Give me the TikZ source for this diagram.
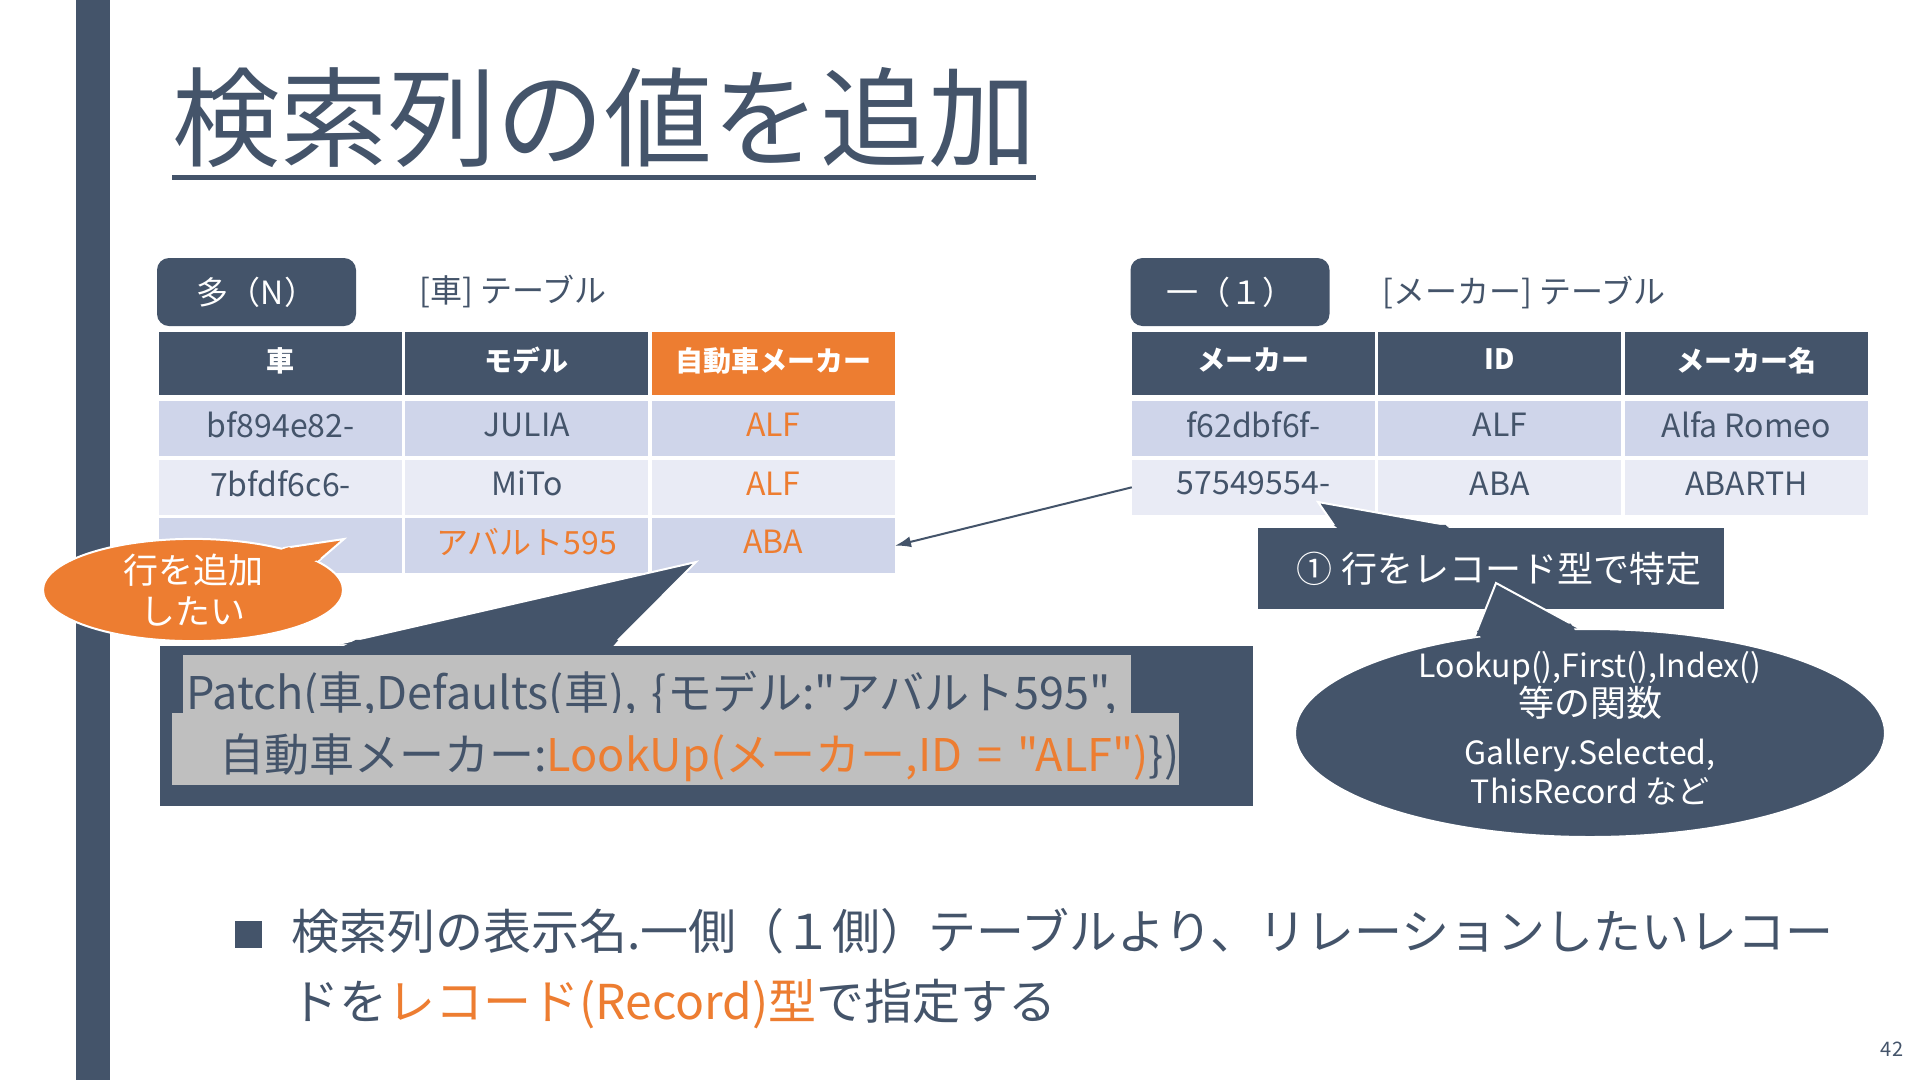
\documentclass[tikz,border=0pt]{standalone}
\usepackage{fontspec}
\setmainfont{Noto Sans CJK JP}[Ligatures=TeXOff]
\usetikzlibrary{positioning,arrows.meta,shapes.geometric,calc}
\definecolor{slate}{HTML}{44546A}
\definecolor{accent}{HTML}{ED7D31}
\definecolor{rowdark}{HTML}{CFD5EA}
\definecolor{rowlight}{HTML}{E9EBF5}
\definecolor{marker}{HTML}{BFBFBF}
\tikzset{>={Latex[length=16pt,width=11pt]}}
\tikzset{
  cell/.style={minimum width=243pt, minimum height=55pt, inner sep=0pt, text depth=8pt, text=slate, font=\fontsize{32}{38}\selectfont},
  hdr/.style={cell, fill=slate, text=white, minimum height=63pt, font=\fontsize{28}{34}\selectfont\bfseries},
  oddrow/.style={cell, fill=rowdark},
  evenrow/.style={cell, fill=rowlight},
  badge/.style={fill=slate, rounded corners=12pt, minimum width=199pt, minimum height=68pt, text=white, font=\fontsize{32}{38}\selectfont},
  tablecap/.style={anchor=west, inner sep=0pt, text=slate, font=\fontsize{32}{38}\selectfont},
  bubble/.style={fill=slate, draw=white, line width=2pt, text=white},
  tailfill/.style={fill=slate, draw=white, line width=2pt},
  codeline/.style={fill=marker, anchor=north west, inner ysep=0pt, inner xsep=3pt, align=left, text=slate, font=\fontsize{45}{50}\selectfont}
}

\begin{document}
\begin{tikzpicture}[x=1pt, y=-1pt]
\useasboundingbox (0,0) rectangle (1920,1080);
\fill[white] (0,0) rectangle (1920,1080);
\fill[slate] (76,0) rectangle (110,1080); %side bar

\node[anchor=base west, inner sep=0pt, text=slate, font=\fontsize{108}{120}\selectfont] (title) at (172,158) {検索列の値を追加};
\draw[slate, line width=5pt] ([yshift=-19pt]title.base west) -- ([yshift=-19pt]title.base east);

% many side
\node[badge] (manyb) at (256.5,292) {多（N）};
\node[tablecap] (manycap) at (419,291) {[車] テーブル};
\node[hdr] (ch1) at (280.5,363.5) {車};
\node[hdr, right=3pt of ch1] (ch2) {モデル};
\node[hdr, fill=accent, right=3pt of ch2] (ch3) {自動車メーカー};
\node[oddrow, below=6pt of ch1] (c11) {bf894e82-};
\node[oddrow, right=3pt of c11] (c12) {JULIA};
\node[oddrow, right=3pt of c12, text=accent] (c13) {ALF};
\node[evenrow, below=3pt of c11] (c21) {7bfdf6c6-};
\node[evenrow, right=3pt of c21] (c22) {MiTo};
\node[evenrow, right=3pt of c22, text=accent] (c23) {ALF};
\node[oddrow, below=3pt of c21] (c31) {};
\node[oddrow, right=3pt of c31, text=accent] (c32) {アバルト595};
\node[oddrow, right=3pt of c32, text=accent] (c33) {ABA};

% one side
\node[badge] (oneb) at (1230,292) {一（１）};
\node[tablecap] (onecap) at (1382,292) {[メーカー] テーブル};
\node[hdr] (mh1) at (1253.5,363.5) {メーカー};
\node[hdr, right=3pt of mh1] (mh2) {ID};
\node[hdr, right=3pt of mh2] (mh3) {メーカー名};
\node[oddrow, below=6pt of mh1] (m11) {f62dbf6f-};
\node[oddrow, right=3pt of m11] (m12) {ALF};
\node[oddrow, right=3pt of m12] (m13) {Alfa Romeo};
\node[evenrow, below=3pt of m11] (m21) {57549554-};
\node[evenrow, right=3pt of m21] (m22) {ABA};
\node[evenrow, right=3pt of m22] (m23) {ABARTH};

\draw[->, slate, line width=2pt] (m21.west) -- (c33.east);

% patch formula
\node[bubble, minimum width=1095pt, minimum height=162pt, inner sep=0pt] (code) at (706.5,726) {};
\coordinate (codetip) at (696,562);
\coordinate (cb1) at ($(code.north west)!0.164!(code.north east)$);
\coordinate (cb2) at ($(code.north west)!0.416!(code.north east)$);
\draw[tailfill] (cb1) -- (codetip) -- (cb2);
\fill[slate] ($(cb1)+(4,3)$) -- ($(cb1)!0.05!(codetip)$) -- ($(cb2)!0.05!(codetip)$) -- ($(cb2)+(-2,3)$) -- cycle;
\node[codeline, text width=942pt, text height=54pt, text depth=4pt] (codeA) at (183,655) {\mbox{Patch(車,Defaults(車), \{モデル:"アバルト595",}};
\node[codeline, text width=1001pt, text height=58pt, text depth=14pt] (codeB) at (172,713) {\mbox{\hspace{44pt}自動車メーカー:\textcolor{accent}{LookUp(メーカー,ID = "ALF")}\})}};

\node[ellipse, fill=accent, draw=white, line width=2pt, minimum width=300pt, minimum height=100pt, inner sep=0pt, text=white, align=center, font=\fontsize{35}{41}\selectfont] (wish) at (193,590) {行を追加\\したい};
\coordinate (wishtip) at (344,539);
\draw[tailfill, fill=accent] (wish.25) -- (wishtip) -- (wish.13);
\fill[accent] ($(wish.center)!0.9!(wish.25)$) -- ($(wish.25)!0.1!(wishtip)$) -- ($(wish.13)!0.1!(wishtip)$) -- ($(wish.center)!0.9!(wish.13)$) -- cycle;

% record callouts
\node[bubble, minimum width=468pt, minimum height=83pt, inner sep=0pt, font=\fontsize{36}{40}\selectfont] (note) at (1491,568.5) {\hspace{16pt}① 行をレコード型で特定};
\coordinate (notetip) at (1318,502);
\coordinate (nb1) at ($(note.north west)!0.167!(note.north east)$);
\coordinate (nb2) at ($(note.north west)!0.417!(note.north east)$);
\draw[tailfill] (nb1) -- (notetip) -- (nb2);
\fill[slate] ($(nb1)+(4,3)$) -- ($(nb1)!0.05!(notetip)$) -- ($(nb2)!0.05!(notetip)$) -- ($(nb2)+(-2,3)$) -- cycle;

\node[ellipse, bubble, minimum width=590pt, minimum height=208pt] (funcs) at (1590,733) {};
\coordinate (funcstip) at (1496,583);
\draw[tailfill] (funcs.140) -- (funcstip) -- (funcs.96);
\fill[slate] ($(funcs.center)!0.9!(funcs.140)$) -- ($(funcs.140)!0.1!(funcstip)$) -- ($(funcs.96)!0.1!(funcstip)$) -- ($(funcs.center)!0.9!(funcs.96)$) -- cycle;
\node[text=white, align=center, inner sep=0pt, font=\fontsize{32}{37}\selectfont] (funcstext) at ([yshift=5pt]funcs.center) {Lookup(),First(),Index()\\{\fontsize{36}{37}\selectfont 等の関数}\\[11pt]Gallery.Selected,\\[2pt]ThisRecord など};

% bullet
\node[fill=slate, minimum size=27pt, inner sep=0pt] (bsq) at (248.5,934.5) {};
\node[anchor=west, inner sep=0pt, align=left, text=slate, font=\fontsize{48}{70}\selectfont] (btxt) at (291,969) {検索列の表示名.一側（１側）テーブルより、リレーションしたいレコー\\ドを\textcolor{accent}{レコード(Record)型}で指定する};

\node[text=slate, font=\fontsize{20}{24}\selectfont, inner sep=0pt] (pnum) at (1892,1049) {42};
\end{tikzpicture}
\end{document}
